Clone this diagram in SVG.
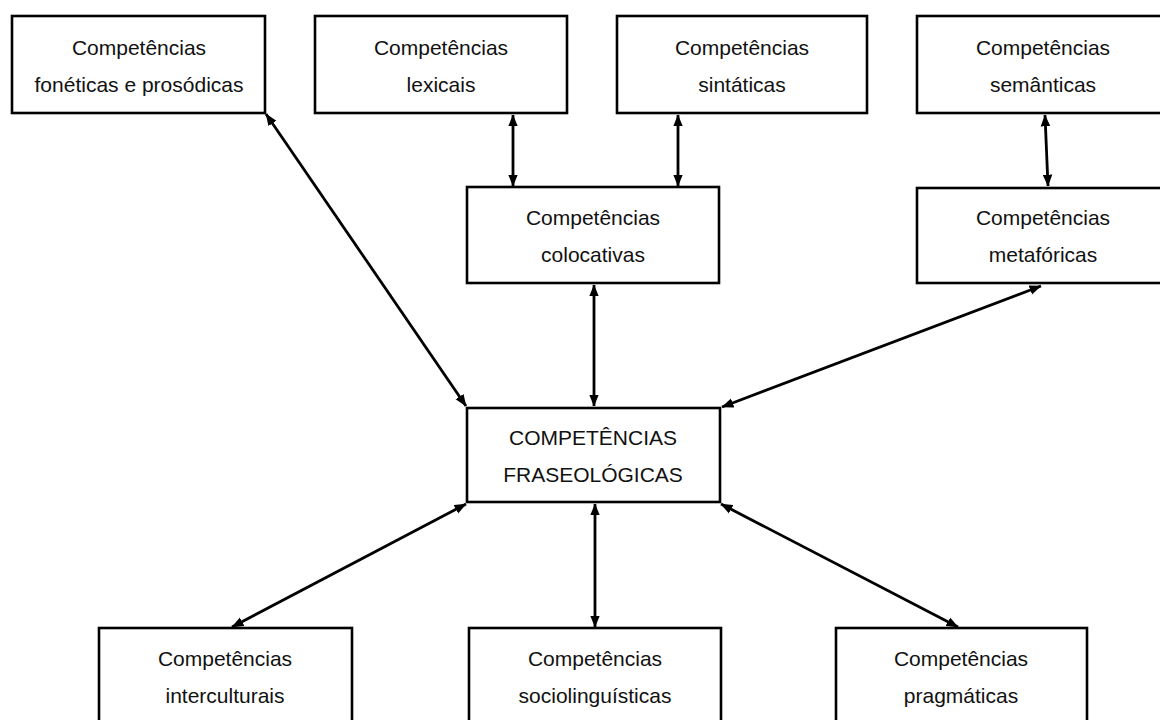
<svg xmlns="http://www.w3.org/2000/svg" width="1160" height="720" viewBox="0 0 1160 720">
<style>
.box{fill:#fff;stroke:#000;stroke-width:2.6}
.t{font-family:"Liberation Sans",Arial,sans-serif;font-size:21px;fill:#111;text-anchor:middle}
.c{stroke:#000;stroke-width:2.8;fill:none;marker-start:url(#ah);marker-end:url(#ah)}
</style>
<defs>
<marker id="ah" viewBox="0 0 10 8" refX="9.5" refY="4" markerWidth="12" markerHeight="10" markerUnits="userSpaceOnUse" orient="auto-start-reverse">
<path d="M0,0 L10,4 L0,8 Z" fill="#000"/>
</marker>
</defs>
<rect width="1160" height="720" fill="#fff"/>
<g id="connectors">
<line class="c" x1="266" y1="114" x2="466" y2="406"/>
<line class="c" x1="513" y1="115" x2="513" y2="186"/>
<line class="c" x1="678" y1="115" x2="678" y2="186"/>
<line class="c" x1="1045" y1="115" x2="1048" y2="186"/>
<line class="c" x1="594" y1="285" x2="594" y2="406"/>
<line class="c" x1="1041" y1="286" x2="722" y2="407"/>
<line class="c" x1="466" y1="504" x2="232" y2="627"/>
<line class="c" x1="595" y1="504" x2="595" y2="627"/>
<line class="c" x1="721" y1="504" x2="958" y2="627"/>
</g>
<g id="n-foneticas">
<rect class="box" x="12" y="16" width="253" height="97"/>
<text class="t" x="139" y="55">Competências</text>
<text class="t" x="139" y="92">fonéticas e prosódicas</text>
</g>
<g id="n-lexicais">
<rect class="box" x="315" y="16" width="252" height="97"/>
<text class="t" x="441" y="55">Competências</text>
<text class="t" x="441" y="92">lexicais</text>
</g>
<g id="n-sintaticas">
<rect class="box" x="617" y="16" width="250" height="97"/>
<text class="t" x="742" y="55">Competências</text>
<text class="t" x="742" y="92">sintáticas</text>
</g>
<g id="n-semanticas">
<rect class="box" x="917" y="16" width="253" height="97"/>
<text class="t" x="1043" y="55">Competências</text>
<text class="t" x="1043" y="92">semânticas</text>
</g>
<g id="n-colocativas">
<rect class="box" x="467" y="187" width="252" height="96"/>
<text class="t" x="593" y="225">Competências</text>
<text class="t" x="593" y="262">colocativas</text>
</g>
<g id="n-metaforicas">
<rect class="box" x="917" y="188" width="253" height="95"/>
<text class="t" x="1043" y="225">Competências</text>
<text class="t" x="1043" y="262">metafóricas</text>
</g>
<g id="n-fraseologicas">
<rect class="box" x="467" y="408" width="253" height="94"/>
<text class="t" x="593" y="445" font-size="20">COMPETÊNCIAS</text>
<text class="t" x="593" y="482" font-size="20">FRASEOLÓGICAS</text>
</g>
<g id="n-interculturais">
<rect class="box" x="99" y="628" width="253" height="110"/>
<text class="t" x="225" y="666">Competências</text>
<text class="t" x="225" y="703">interculturais</text>
</g>
<g id="n-sociolinguisticas">
<rect class="box" x="469" y="628" width="252" height="110"/>
<text class="t" x="595" y="666">Competências</text>
<text class="t" x="595" y="703">sociolinguísticas</text>
</g>
<g id="n-pragmaticas">
<rect class="box" x="836" y="628" width="251" height="110"/>
<text class="t" x="961" y="666">Competências</text>
<text class="t" x="961" y="703">pragmáticas</text>
</g>
</svg>
